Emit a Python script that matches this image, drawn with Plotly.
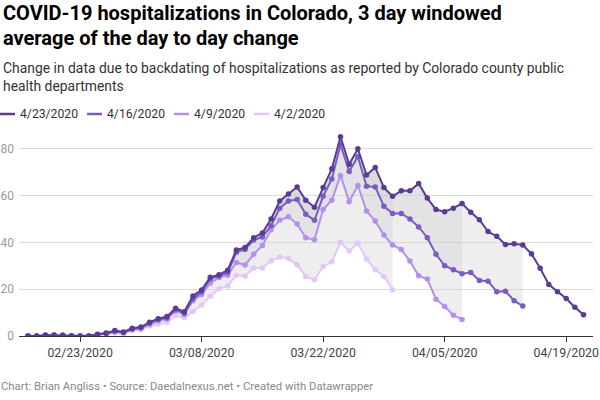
import pandas as pd
import plotly.graph_objects as go

# ---------------- data ----------------
dates = pd.date_range("2020-02-17", "2020-04-21", freq="D")

series_names = ["4/23/2020", "4/16/2020", "4/9/2020", "4/2/2020"]

v_0423 = [0, 0, 0.4, 0.4, 0.3, 0.1, 0, 0, 0.8, 1.3, 2.3, 1.7, 3.3, 3.8,
          5.9, 7.4, 8.3, 11.9, 10.4, 17.1, 19.7, 25.1, 26.2, 28.1, 36.7, 37.8,
          42.0, 44.0, 50.0, 57.7, 60.7, 63.7, 58.0, 55.0, 63.4, 71.4, 85.1,
          73.4, 80.0, 68.8, 72.0, 63.4, 59.7, 62.0, 62.0, 65.1, 58.9, 54.0,
          53.1, 54.6, 56.6, 52.9, 49.7, 44.6, 42.6, 39.1, 39.4, 38.9, 35.1,
          28.9, 22.0, 18.9, 16.0, 12.3, 9.1]

v_0416 = [0, 0, 0.3, 0.3, 0.3, 0, 0, 0, 0.6, 1.1, 2.0, 1.5, 3.0, 3.5,
          5.5, 7.0, 7.8, 11.2, 9.8, 15.8, 18.8, 24.5, 25.6, 27.1, 35.8, 37.0,
          41.0, 42.3, 47.1, 54.6, 57.7, 58.3, 52.0, 49.4, 59.7, 67.1, 81.7,
          70.3, 76.6, 64.0, 63.7, 55.4, 52.3, 52.3, 50.0, 46.6, 42.0, 34.9,
          30.0, 28.3, 26.6, 27.1, 23.7, 23.4, 18.9, 19.1, 15.1, 12.8]

v_0409 = [0, 0, 0.2, 0.2, 0.2, 0, 0, 0, 0.5, 1.0, 1.8, 1.4, 2.8, 3.2,
          5.0, 6.5, 7.3, 10.8, 9.2, 15.1, 17.7, 22.6, 25.0, 26.0, 31.4, 30.3,
          34.9, 38.7, 45.4, 49.4, 50.9, 47.8, 42.0, 41.1, 54.0, 58.0, 68.6,
          57.4, 64.3, 53.4, 49.1, 43.1, 38.9, 36.9, 32.0, 25.7, 24.3, 15.7,
          12.6, 8.9, 7.1]

v_0402 = [0, 0, 0.1, 0.1, 0.1, 0, 0, 0, 0.3, 0.7, 1.3, 1.0, 2.3, 2.7,
          4.3, 5.0, 5.8, 8.6, 7.8, 10.5, 13.2, 17.0, 20.2, 21.4, 26.0, 25.5,
          29.0, 29.1, 32.1, 33.7, 33.1, 30.4, 25.4, 24.0, 29.7, 31.7, 40.0,
          36.3, 39.7, 32.9, 28.3, 25.4, 19.7]

tick_dates = ["2020-02-23", "2020-03-08", "2020-03-22", "2020-04-05", "2020-04-19"]
tick_labels = ["02/23/2020", "03/08/2020", "03/22/2020", "04/05/2020", "04/19/2020"]
y_ticks = [0, 20, 40, 60, 80]

colors = ["#5a3c96", "#7c5cc2", "#b48ff2", "#e3c7f8"]
values = [v_0423, v_0416, v_0409, v_0402]

# ---------------- layout geometry ----------------
W, H = 600, 400
ML, MR, MT, MB = 19, 7, 130, 64
PW, PH = W - ML - MR, H - MT - MB


def px(X):
    return (X - ML) / PW


def py(Y):
    return (H - MB - Y) / PH


fig = go.Figure()

# shaded bands between the newest series and each older one
fill_col = "rgba(205,205,205,0.34)"
for vals in [v_0402, v_0409, v_0416]:
    n = len(vals)
    fig.add_trace(go.Scatter(x=dates[:n], y=v_0423[:n], mode="lines",
                             line=dict(width=0, color="rgba(0,0,0,0)"),
                             showlegend=False, hoverinfo="skip"))
    fig.add_trace(go.Scatter(x=dates[:n], y=vals, mode="lines",
                             line=dict(width=0, color="rgba(0,0,0,0)"),
                             fill="tonexty", fillcolor=fill_col,
                             showlegend=False, hoverinfo="skip"))

# lines, oldest first so newest is on top
for name, vals, col in reversed(list(zip(series_names, values, colors))):
    n = len(vals)
    fig.add_trace(go.Scatter(x=dates[:n], y=vals, mode="lines+markers",
                             name=name,
                             line=dict(color=col, width=2),
                             marker=dict(color=col, size=5.5),
                             showlegend=False))

x0 = pd.Timestamp("2020-02-17") - pd.Timedelta(days=1.04)
x1 = x0 + pd.Timedelta(days=PW / 8.68)

fig.update_layout(
    width=W, height=H,
    margin=dict(l=ML, r=MR, t=MT, b=MB, pad=0, autoexpand=False),
    paper_bgcolor="white", plot_bgcolor="white",
    font=dict(family="Roboto", size=12, color="#333"),
    showlegend=False,
    xaxis=dict(range=[x0, x1], tickvals=tick_dates, ticktext=tick_labels,
               ticks="outside", ticklen=5, tickcolor="#333", tickwidth=1,
               showline=True, linecolor="#333", linewidth=1.3,
               showgrid=False, zeroline=False, automargin=False,
               tickfont=dict(size=12.3, color="#444")),
    yaxis=dict(range=[0, 88], tickvals=y_ticks, showgrid=True,
               gridcolor="#dcdcdc", gridwidth=1, zeroline=False,
               ticks="", tickfont=dict(size=12, color="#999"),
               ticklabelstandoff=4, automargin=False),
)

ann = []
ann.append(dict(text="<b>COVID-19 hospitalizations in Colorado, 3 day windowed</b>",
                x=px(1), y=py(13), xanchor="left", yanchor="middle",
                font=dict(size=20, color="#000")))
ann.append(dict(text="<b>average of the day to day change</b>",
                x=px(1), y=py(38), xanchor="left", yanchor="middle",
                font=dict(size=20, color="#000")))
ann.append(dict(text="Change in data due to backdating of hospitalizations as reported by Colorado county public",
                x=px(1), y=py(68), xanchor="left", yanchor="middle",
                font=dict(size=13.9, color="#333")))
ann.append(dict(text="health departments",
                x=px(1), y=py(86), xanchor="left", yanchor="middle",
                font=dict(size=13.9, color="#333")))
ann.append(dict(text="Chart: Brian Angliss • Source: Daedalnexus.net • Created with Datawrapper",
                x=px(-1), y=py(386), xanchor="left", yanchor="middle",
                font=dict(size=11.3, color="#888")))

# manual legend
leg_x = [0, 87, 174, 254]
shapes = []
for lx, name, col in zip(leg_x, series_names, colors):
    shapes.append(dict(type="line", xref="paper", yref="paper",
                       x0=px(lx), x1=px(lx + 15), y0=py(114), y1=py(114),
                       line=dict(color=col, width=2.5)))
    ann.append(dict(text=name, x=px(lx + 18), y=py(114), xanchor="left",
                    yanchor="middle", font=dict(size=12.2, color="#333")))

for a in ann:
    a.update(xref="paper", yref="paper", showarrow=False)

fig.update_layout(annotations=ann, shapes=shapes)

fig.write_html("out.html",
               config={"displayModeBar": False},
               post_script="document.body.style.margin='0';document.body.style.padding='0';")
